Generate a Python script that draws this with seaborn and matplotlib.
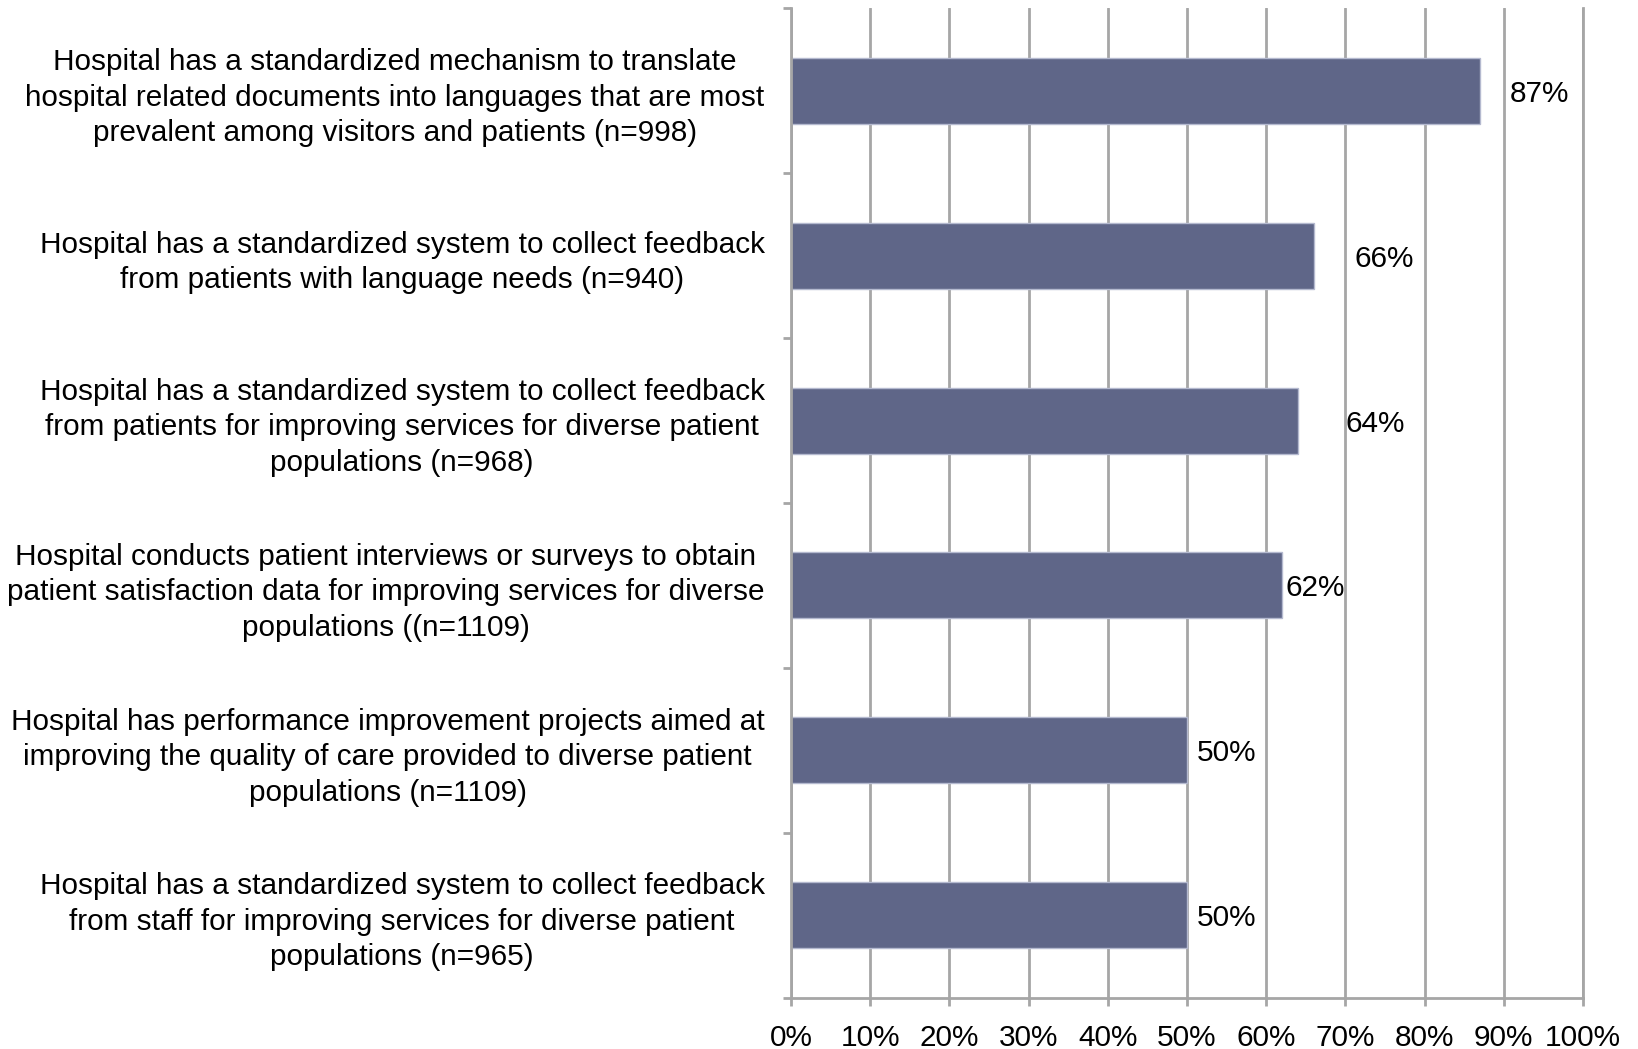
import matplotlib
matplotlib.use("Agg")
import matplotlib.pyplot as plt
from matplotlib.ticker import FixedLocator, MultipleLocator, FuncFormatter
import seaborn as sns
import pandas as pd

categories = [
    "Hospital has a standardized mechanism to translate\nhospital related documents into languages that are most\nprevalent among visitors and patients (n=998)",
    "Hospital has a standardized system to collect feedback\nfrom patients with language needs (n=940)",
    "Hospital has a standardized system to collect feedback\nfrom patients for improving services for diverse patient\npopulations (n=968)",
    "Hospital conducts patient interviews or surveys to obtain\npatient satisfaction data for improving services for diverse\npopulations ((n=1109)",
    "Hospital has performance improvement projects aimed at\nimproving the quality of care provided to diverse patient\npopulations (n=1109)",
    "Hospital has a standardized system to collect feedback\nfrom staff for improving services for diverse patient\npopulations (n=965)",
]
percent = [87, 66, 64, 62, 50, 50]
# x position (in %) where each value label starts
label_x = [90.8, 71.2, 70.0, 62.4, 51.2, 51.3]

sns.set_style("white")
plt.rcParams["font.family"] = ["Liberation Sans", "DejaVu Sans"]

FS = 21.4
GRID = "#a6a6a6"
BAR = "#5f6688"

fig = plt.figure(figsize=(16.38, 10.49), dpi=100)
ax = fig.add_axes([0.4829, 0.049, 0.4835, 0.943])

df = pd.DataFrame({"item": categories, "pct": percent})
sns.barplot(data=df, x="pct", y="item", orient="h", color=BAR, saturation=1,
            width=0.4, edgecolor="#b4b9cf", linewidth=1, ax=ax)

ax.set_xlim(0, 100)
ax.set_ylim(5.5, -0.5)
ax.set_xlabel("")
ax.set_ylabel("")

ax.set_axisbelow(True)
ax.xaxis.set_major_locator(MultipleLocator(10))
ax.xaxis.set_major_formatter(FuncFormatter(lambda v, p: f"{v:.0f}%"))
ax.xaxis.grid(True, color=GRID, lw=2)
ax.yaxis.grid(False)

for side in ["left", "bottom", "right"]:
    ax.spines[side].set_visible(True)
    ax.spines[side].set_color(GRID)
    ax.spines[side].set_linewidth(2)
ax.spines["top"].set_visible(False)

ax.tick_params(axis="x", which="major", direction="out", length=6, width=2,
               color=GRID, labelsize=FS, labelcolor="black", pad=13, bottom=True)
ax.yaxis.set_minor_locator(FixedLocator([i - 0.5 for i in range(len(categories) + 1)]))
ax.tick_params(axis="y", which="minor", direction="out", length=6, width=2,
               color=GRID, left=True)
ax.tick_params(axis="y", which="major", length=0, labelsize=FS,
               labelcolor="black", pad=19)
for lab in ax.get_yticklabels():
    lab.set_multialignment("center")
    lab.set_linespacing(1.34)

for i, (v, lx) in enumerate(zip(percent, label_x)):
    ax.text(lx, i, f"{v}%", ha="left", va="center_baseline", fontsize=FS, color="black")

fig.savefig("out.png", dpi=100)
